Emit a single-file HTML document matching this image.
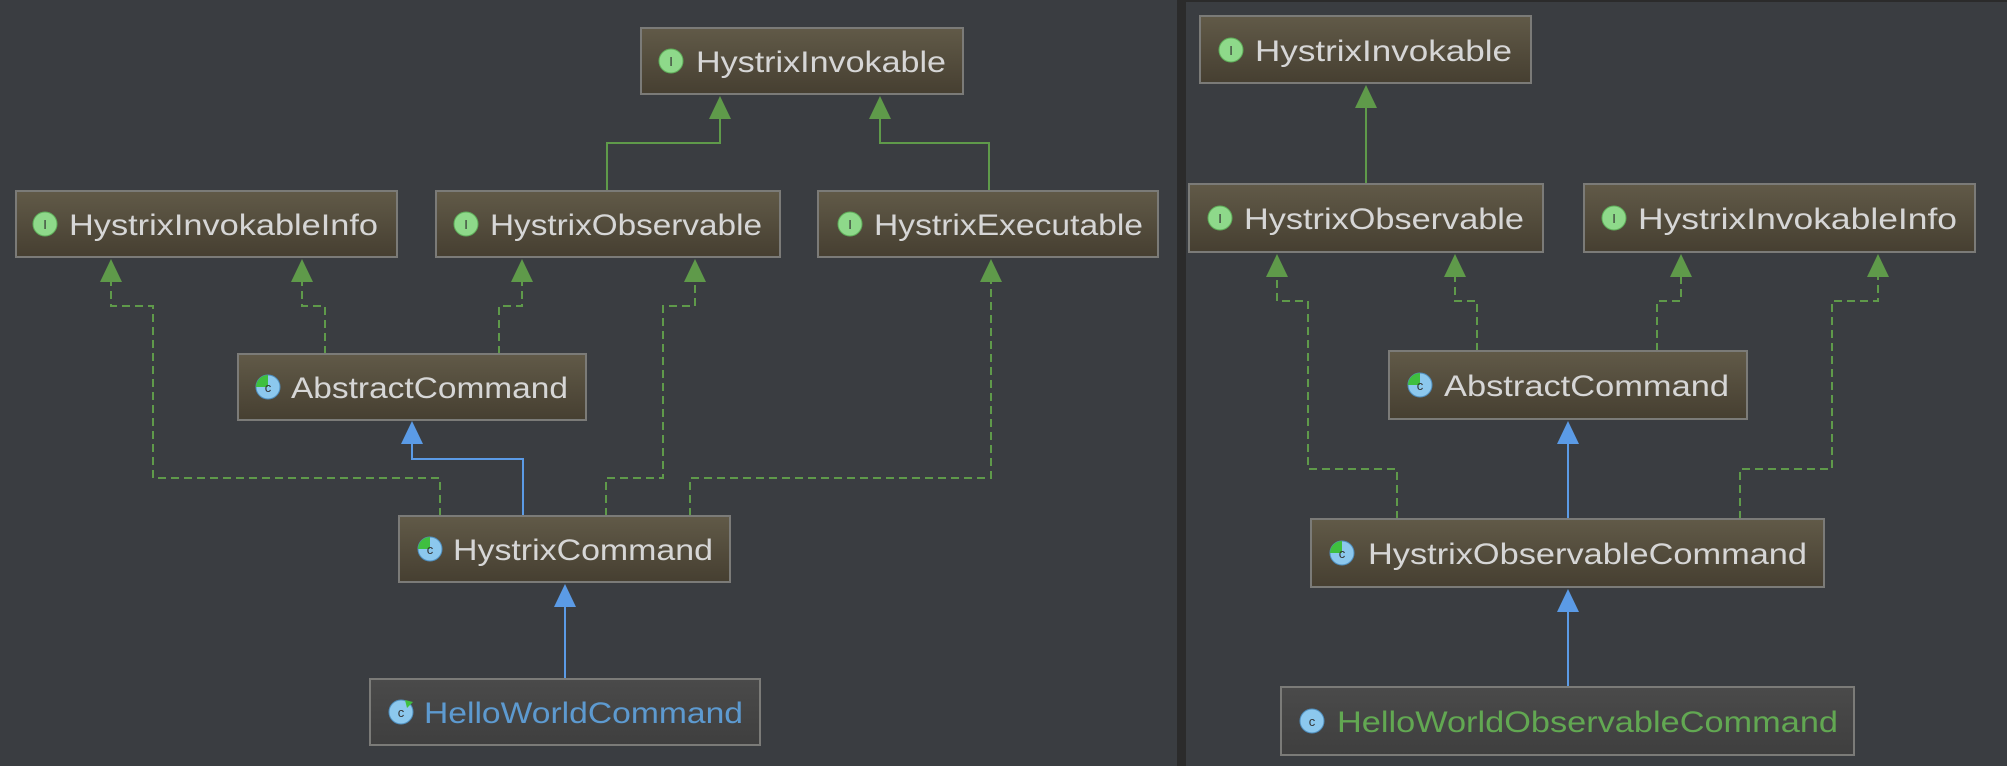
<!DOCTYPE html>
<html><head><meta charset="utf-8"><style>
html,body{margin:0;padding:0;background:#3a3d41;}
svg{display:block}
text{font-family:"Liberation Sans",sans-serif;}
</style></head><body>
<svg width="2007" height="766" viewBox="0 0 2007 766" xmlns="http://www.w3.org/2000/svg">
<defs>
<linearGradient id="g" x1="0" y1="0" x2="0" y2="1"><stop offset="0" stop-color="#615a48"/><stop offset="1" stop-color="#463f31"/></linearGradient>
<linearGradient id="gh" x1="0" y1="0" x2="0" y2="1"><stop offset="0" stop-color="#4a4a4a"/><stop offset="1" stop-color="#3f3f3f"/></linearGradient>
</defs>
<rect width="2007" height="766" fill="#3a3d41"/>
<rect x="1177" y="0" width="9" height="766" fill="#2b2b2b"/>
<rect x="1186" y="0" width="821" height="2" fill="#2b2b2b"/>

<g fill="none" stroke-width="2">
<!-- left solid -->
<path d="M607 191V143H720V116M989 191V143H880V116" stroke="#5f9a4a"/>
<!-- left dashed -->
<g stroke="#5f9a4a" stroke-dasharray="8,5">
<path d="M325 354V306H302V280"/>
<path d="M499 354V306H522V280"/>
<path d="M440 516V478H153V306H111V280"/>
<path d="M606 516V478H663V306H695V280"/>
<path d="M690 516V478H991V280"/>
</g>
<path d="M523 516V459H412V442M565 679V604" stroke="#5b9be6"/>
<!-- right -->
<path d="M1366 184V105" stroke="#5f9a4a"/>
<g stroke="#5f9a4a" stroke-dasharray="8,5">
<path d="M1477 351V301H1455V273"/>
<path d="M1657 351V301H1681V273"/>
<path d="M1397 519V469H1308V301H1277V273"/>
<path d="M1740 519V469H1832V301H1878V273"/>
</g>
<path d="M1568 519V441M1568 687V609" stroke="#5b9be6"/>
</g>
<!-- arrowheads -->
<g fill="#5f9a4a">
<path d="M720 96l-11 23h22z"/><path d="M880 96l-11 23h22z"/>
<path d="M111 259l-11 23h22z"/><path d="M302 259l-11 23h22z"/><path d="M522 259l-11 23h22z"/><path d="M695 259l-11 23h22z"/><path d="M991 259l-11 23h22z"/>
<path d="M1366 85l-11 23h22z"/>
<path d="M1277 254l-11 23h22z"/><path d="M1455 254l-11 23h22z"/><path d="M1681 254l-11 23h22z"/><path d="M1878 254l-11 23h22z"/>
</g>
<g fill="#5b9be6">
<path d="M412 421l-11 23h22z"/><path d="M565 584l-11 23h22z"/>
<path d="M1568 421l-11 23h22z"/><path d="M1568 589l-11 23h22z"/>
</g>

<!-- boxes -->
<g stroke="#7b7b78" stroke-width="2" fill="url(#g)">
<rect x="641" y="28" width="322" height="66"/>
<rect x="16" y="191" width="381" height="66"/>
<rect x="436" y="191" width="344" height="66"/>
<rect x="818" y="191" width="340" height="66"/>
<rect x="238" y="354" width="348" height="66"/>
<rect x="399" y="516" width="331" height="66"/>
<rect x="370" y="679" width="390" height="66" fill="url(#gh)"/>
<rect x="1200" y="16" width="331" height="67"/>
<rect x="1189" y="184" width="354" height="68"/>
<rect x="1584" y="184" width="391" height="68"/>
<rect x="1389" y="351" width="358" height="68"/>
<rect x="1311" y="519" width="513" height="68"/>
<rect x="1281" y="687" width="573" height="68" fill="url(#gh)"/>
</g>

<!-- interface icons -->
<g fill="#8ed98a" stroke="#5fae5a" stroke-width="1">
<circle cx="671" cy="61" r="12"/><circle cx="45" cy="224" r="12"/><circle cx="466" cy="224" r="12"/><circle cx="850" cy="224" r="12"/>
<circle cx="1231" cy="50" r="12"/><circle cx="1220" cy="218" r="12"/><circle cx="1614" cy="218" r="12"/>
</g>
<g font-family="Liberation Serif,serif" font-size="13" fill="#333" text-anchor="middle">
<text x="671" y="66">I</text><text x="45" y="229">I</text><text x="466" y="229">I</text><text x="850" y="229">I</text>
<text x="1231" y="55">I</text><text x="1220" y="223">I</text><text x="1614" y="223">I</text>
</g>
<!-- class icons -->
<g fill="#8cc8ee" stroke="#4f8fbf" stroke-width="1">
<circle cx="268" cy="387" r="12"/><circle cx="430" cy="549" r="12"/><circle cx="401" cy="712" r="12"/>
<circle cx="1420" cy="385" r="12"/><circle cx="1342" cy="553" r="12"/><circle cx="1312" cy="721" r="12"/>
</g>
<g fill="#3fbf3f">
<path d="M268 387V375A12 12 0 0 0 256 387z"/><path d="M430 549V537A12 12 0 0 0 418 549z"/>
<path d="M1420 385V373A12 12 0 0 0 1408 385z"/><path d="M1342 553V541A12 12 0 0 0 1330 553z"/>
<path d="M405 700l8 2-6 6z"/>
</g>
<g font-size="13" fill="#333" text-anchor="middle">
<text x="268" y="392">c</text><text x="430" y="554">c</text><text x="401" y="717">c</text>
<text x="1420" y="390">c</text><text x="1342" y="558">c</text><text x="1312" y="726">c</text>
</g>

<!-- labels -->
<g font-size="30" fill="#d6d6d6" lengthAdjust="spacingAndGlyphs">
<text x="696" y="72" textLength="250" lengthAdjust="spacingAndGlyphs">HystrixInvokable</text>
<text x="69" y="235" textLength="309" lengthAdjust="spacingAndGlyphs">HystrixInvokableInfo</text>
<text x="490" y="235" textLength="272" lengthAdjust="spacingAndGlyphs">HystrixObservable</text>
<text x="874" y="235" textLength="269" lengthAdjust="spacingAndGlyphs">HystrixExecutable</text>
<text x="291" y="398" textLength="277" lengthAdjust="spacingAndGlyphs">AbstractCommand</text>
<text x="453" y="560" textLength="260" lengthAdjust="spacingAndGlyphs">HystrixCommand</text>
<text x="424" y="723" textLength="319" lengthAdjust="spacingAndGlyphs" fill="#5d9ad0">HelloWorldCommand</text>
<text x="1255" y="61" textLength="257" lengthAdjust="spacingAndGlyphs">HystrixInvokable</text>
<text x="1244" y="229" textLength="280" lengthAdjust="spacingAndGlyphs">HystrixObservable</text>
<text x="1638" y="229" textLength="319" lengthAdjust="spacingAndGlyphs">HystrixInvokableInfo</text>
<text x="1444" y="396" textLength="285" lengthAdjust="spacingAndGlyphs">AbstractCommand</text>
<text x="1368" y="564" textLength="439" lengthAdjust="spacingAndGlyphs">HystrixObservableCommand</text>
<text x="1337" y="732" textLength="501" lengthAdjust="spacingAndGlyphs" fill="#62a852">HelloWorldObservableCommand</text>
</g>
</svg>
</body></html>
